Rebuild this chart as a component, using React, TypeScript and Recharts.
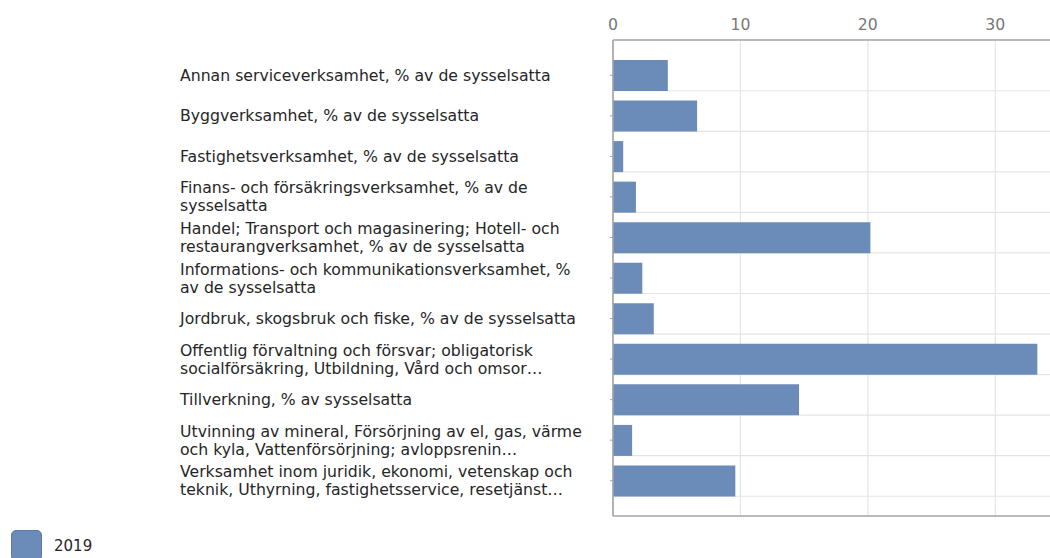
import React from "react";
import {
  BarChart,
  Bar,
  XAxis,
  YAxis,
  CartesianGrid,
  Legend,
} from "recharts";

// ---- data ----
const categories: string[] = [
  "Annan serviceverksamhet, % av de sysselsatta",
  "Byggverksamhet, % av de sysselsatta",
  "Fastighetsverksamhet, % av de sysselsatta",
  "Finans- och försäkringsverksamhet, % av de\nsysselsatta",
  "Handel; Transport och magasinering; Hotell- och\nrestaurangverksamhet, % av de sysselsatta",
  "Informations- och kommunikationsverksamhet, %\nav de sysselsatta",
  "Jordbruk, skogsbruk och fiske, % av de sysselsatta",
  "Offentlig förvaltning och försvar; obligatorisk\nsocialförsäkring, Utbildning, Vård och omsor…",
  "Tillverkning, % av sysselsatta",
  "Utvinning av mineral, Försörjning av el, gas, värme\noch kyla, Vattenförsörjning; avloppsrenin…",
  "Verksamhet inom juridik, ekonomi, vetenskap och\nteknik, Uthyrning, fastighetsservice, resetjänst…",
];
const values2019: number[] = [4.3, 6.6, 0.8, 1.8, 20.2, 2.3, 3.2, 33.3, 14.6, 1.5, 9.6];
const xTicks: number[] = [0, 10, 20, 30];
const seriesName = "2019";

const data = categories.map((name, i) => ({ name, v: values2019[i] }));

// ---- styles ----
const FONT = "DejaVu Sans";
const BAR_COLOR = "#6b8bb8";
const AXIS_COLOR = "#a3a3a3";
const GRID_COLOR = "#e4e4e4";
const BAR_SIZE = 31;
const LABEL_X = 172;
const LABEL_FS = 15.7;
const LINE_H = 18;

const YTick = (props: any) => {
  const { y, payload } = props;
  const lines = String(payload.value).split("\n");
  const startDy = -((lines.length - 1) * LINE_H) / 2 + 5.5;
  return (
    <text x={LABEL_X} y={y} fill="#262626" fontSize={LABEL_FS} fontFamily={FONT} textAnchor="start">
      {lines.map((l, i) => (
        <tspan key={i} x={LABEL_X} dy={i === 0 ? startDy : LINE_H}>
          {l}
        </tspan>
      ))}
    </text>
  );
};

const hGen = (p: any) => {
  const yAxis = p?.yAxis;
  const s = yAxis?.scale;
  if (!s) return [];
  const f = typeof s === "function" ? s : (v: any) => s.map?.(v);
  const bw = typeof s.bandwidth === "function" ? s.bandwidth() : 0;
  return categories.map((c) => f(c) + (bw + BAR_SIZE) / 2);
};

const LegendContent = () => (
  <div style={{ display: "flex", alignItems: "center", paddingTop: 13, paddingLeft: 3 }}>
    <div
      style={{
        width: 31,
        height: 31,
        borderRadius: 5,
        background: BAR_COLOR,
        border: "1px solid #5d7aa3",
        boxSizing: "border-box",
      }}
    />
    <span style={{ marginLeft: 12, fontSize: 15, color: "#262626", fontFamily: FONT }}>{seriesName}</span>
  </div>
);

export default function App() {
  return (
    <div style={{ width: 1042, height: 550, overflow: "hidden", fontFamily: FONT }}>
      <style>{`html{overflow:hidden;} body{margin:8px 0 0 8px;}`}</style>
      <BarChart
        width={1060}
        height={553}
        data={data}
        layout="vertical"
        margin={{ top: 2, right: 9, bottom: 0, left: 0 }}
      >
        <CartesianGrid
          xAxisId="top"
          stroke={GRID_COLOR}
          strokeWidth={1.2}
          horizontalCoordinatesGenerator={hGen}
        />
        <XAxis
          xAxisId="top"
          type="number"
          orientation="top"
          domain={[0, 35]}
          ticks={xTicks}
          height={30}
          allowDataOverflow
          axisLine={{ stroke: AXIS_COLOR, strokeWidth: 1.6 }}
          tickLine={false}
          tickSize={4}
          tickMargin={6}
          tick={{ fill: "#777", fontSize: 15.7, fontFamily: FONT }}
        />
        <XAxis
          xAxisId="bottom"
          type="number"
          orientation="bottom"
          domain={[0, 35]}
          height={1}
          tick={false}
          tickLine={false}
          axisLine={{ stroke: AXIS_COLOR, strokeWidth: 1.6 }}
        />
        <YAxis
          type="category"
          dataKey="name"
          width={605}
          padding={{ top: 15, bottom: 15 }}
          axisLine={{ stroke: AXIS_COLOR, strokeWidth: 1.6 }}
          tickLine={{ stroke: AXIS_COLOR }}
          tickSize={3}
          interval={0}
          tick={(p: any) => <YTick {...p} />}
        />
        <Legend verticalAlign="bottom" align="left" content={() => <LegendContent />} />
        <Bar
          xAxisId="top"
          dataKey="v"
          name={seriesName}
          fill={BAR_COLOR}
          barSize={BAR_SIZE}
          isAnimationActive={false}
        />
      </BarChart>
    </div>
  );
}
